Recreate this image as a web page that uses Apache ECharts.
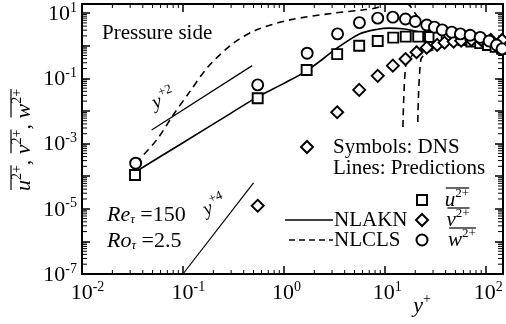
<!DOCTYPE html>
<html><head><meta charset="utf-8">
<script src="https://cdn.jsdelivr.net/npm/echarts@6.0.0/dist/echarts.min.js"></script>
<style>html,body{margin:0;padding:0;background:#fff}#c{width:506px;height:324px}</style>
</head><body><div id="c"></div>
<script>
const FONT = "Liberation Serif";
// tick label exponents
const xLabelExps = [-2, -1, 0, 1, 2];
const yLabelExps = [-7, -5, -3, -1, 1];
const X_RANGE = [0.01, 148];
const Y_RANGE = [1e-7, 19];

// DNS symbols
const dnsU = [[0.0335,1.09e-4],[0.55,0.0245],[1.68,0.18],[3.37,0.55],[5.57,1.0],[8.5,1.4],[12.1,1.77],[16.1,1.9],[21.4,1.9],[28,1.85],[34,1.8],[41,1.7],[50,1.6],[60,1.5],[72,1.35],[88,1.2],[105,1.05],[125,0.92],[145,0.8]];
const dnsV = [[0.55,1.24e-5],[3.37,0.0091],[5.57,0.044],[8.5,0.119],[12,0.245],[16,0.39],[20.6,0.63],[26,0.87],[33,1.06],[39,1.24],[48,1.34],[57,1.43],[72,1.5],[90,1.5],[112,1.5],[145,1.5]];
const dnsW = [[0.034,2.5e-4],[0.55,0.063],[1.7,0.59],[3.4,2.3],[5.6,5.1],[8.5,7.0],[12,7.5],[16,6.6],[20,5.5],[26,4.3],[31,3.7],[37,3.05],[46,2.6],[56,2.3],[70,2.1],[88,1.8],[108,1.4],[128,1.05],[145,0.8]];
// predictions
const nlakn = [[0.034,1.37e-4],[0.1,1.06e-3],[0.3,8.6e-3],[0.55,0.027],[1.0,0.07],[1.68,0.17],[2.5,0.42],[3.37,0.85],[5.6,2.3],[8.5,3.2],[11,3.45],[15,3.3],[20,2.8],[30,2.2],[40,1.8],[64,1.2],[100,0.85],[148,0.65]];
const nlclsW = [[0.034,2.5e-4],[0.055,1.3e-3],[0.08,7.5e-3],[0.117,0.039],[0.178,0.229],[0.315,1.19],[0.537,3.06],[1.15,6.2],[3.07,9.9],[6,12.5],[8.3,14.5],[10,19.5],[13,23],[17,19],[21,8],[26,4.8],[32,3.4],[45,2.4],[70,1.8],[100,1.5],[148,1.3]];
const nlclsV1 = [[15.1,3.2e-3],[16.1,0.26],[18,0.45],[22,0.7],[30,1.0],[45,1.25],[70,1.4],[148,1.45]];
const nlclsV2 = [[21.2,4.6e-3],[22.7,0.37],[26,0.6],[35,0.9],[50,1.1],[80,1.3],[148,1.4]];
const slope2 = [[0.049,2.6e-3],[0.485,0.245]];
const slope4 = [[0.1,1e-7],[0.5,6.25e-5]];

function minorVals(lo, hi) {
  const out = [];
  for (let k = Math.floor(Math.log10(lo)); k <= Math.ceil(Math.log10(hi)); k++)
    for (let m = 2; m <= 9; m++) { const v = m * Math.pow(10, k); if (v > lo * 1.0001 && v < hi * 0.9999) out.push(v); }
  return out;
}
const xMinor = minorVals(X_RANGE[0], X_RANGE[1]);
const yMinor = minorVals(Y_RANGE[0], Y_RANGE[1]);

const mctx = document.createElement('canvas').getContext('2d');
function tw(t, s, i) { mctx.font = (i ? 'italic ' : '') + s + 'px "' + FONT + '"'; return mctx.measureText(t).width; }
function tstyle(text, s, i, align) {
  return { text: text, fontFamily: FONT, fontSize: s, fontStyle: i ? 'italic' : 'normal', fill: '#000', align: align || 'left', verticalAlign: 'middle' };
}
// build a run of text pieces with optional overlines (local coords)
function run(items, center, olY) {
  let x = 0; const kids = []; const ol = {};
  items.forEach(it => {
    const w = tw(it.t, it.s, it.i);
    kids.push({ type: 'text', x: x, y: it.dy || 0, style: tstyle(it.t, it.s, it.i) });
    if (it.o != null) { if (!ol[it.o]) ol[it.o] = [x, x + w]; ol[it.o][1] = x + w; }
    x += w;
  });
  Object.keys(ol).forEach(k => kids.push({ type: 'line', shape: { x1: ol[k][0] + 1, y1: olY, x2: ol[k][1], y2: olY }, style: { stroke: '#000', lineWidth: 1.2 } }));
  if (center) kids.forEach(k => { if (k.type === 'text') k.x -= x / 2; else { k.shape.x1 -= x / 2; k.shape.x2 -= x / 2; } });
  return kids;
}

const chart = echarts.init(document.getElementById('c'));
const lineBase = { type: 'line', showSymbol: false, symbol: 'none', clip: true, z: 2, animation: false };
const scatBase = { type: 'scatter', itemStyle: { color: '#fff', borderColor: '#000', borderWidth: 1.9, opacity: 1 }, z: 4, animation: false };

function xFmt(v) {
  const e = Math.log10(v), k = Math.round(e);
  if (Math.abs(e - k) > 1e-6 || xLabelExps.indexOf(k) < 0) return '';
  return '{p' + String(k).length + '| }{b|10}{s|' + k + '}';
}
function yFmt(v) {
  const e = Math.log10(v), k = Math.round(e);
  if (Math.abs(e - k) > 1e-6 || yLabelExps.indexOf(k) < 0) return '';
  return '{b|10}{s|' + k + '}';
}
const labRich = {
  b: { fontFamily: FONT, fontSize: 22, lineHeight: 24, verticalAlign: 'bottom', color: '#000' },
  s: { fontFamily: FONT, fontSize: 14, lineHeight: 14, verticalAlign: 'top', color: '#000' },
  p1: { width: 5, fontSize: 14 }, p2: { width: 11, fontSize: 14 }
};
const axCommon = {
  type: 'log', logBase: 10,
  axisLine: { show: true, onZero: false, lineStyle: { color: '#000', width: 2 } },
  axisTick: { show: true, inside: true, length: 8, lineStyle: { color: '#000', width: 1.5 } },
  splitLine: { show: false }, minorTick: { show: false }
};
const ticksX = (params, api) => {
  const x = api.value(0);
  const b = api.coord([x, Y_RANGE[0]]), t = api.coord([x, Y_RANGE[1]]);
  return { type: 'group', children: [
    { type: 'line', shape: { x1: b[0], y1: b[1], x2: b[0], y2: b[1] - 4 }, style: { stroke: '#000', lineWidth: 1 } },
    { type: 'line', shape: { x1: t[0], y1: t[1], x2: t[0], y2: t[1] + 4 }, style: { stroke: '#000', lineWidth: 1 } }
  ] };
};
const ticksY = (params, api) => {
  const y = api.value(1);
  const l = api.coord([X_RANGE[0], y]), r = api.coord([X_RANGE[1], y]);
  return { type: 'group', children: [
    { type: 'line', shape: { x1: l[0], y1: l[1], x2: l[0] + 5, y2: l[1] }, style: { stroke: '#000', lineWidth: 1 } },
    { type: 'line', shape: { x1: r[0], y1: r[1], x2: r[0] - 5, y2: r[1] }, style: { stroke: '#000', lineWidth: 1 } }
  ] };
};

const graphics = [];
function txt(x, y, text, s, i, align) {
  graphics.push({ type: 'text', x: x, y: y, style: tstyle(text, s, i, align) });
}
txt(102, 33, 'Pressure side', 21);
txt(333, 147, 'Symbols: DNS', 21);
txt(333, 168, 'Lines: Predictions', 21);
graphics.push({ type: 'polygon', shape: { points: [[307, 141], [313, 147], [307, 153], [301, 147]] }, style: { fill: '#fff', stroke: '#000', lineWidth: 2 } });
// y+2 and y+4
graphics.push({ type: 'group', x: 153, y: 104, rotation: 0.36, children: run([{ t: 'y', s: 20, i: true }, { t: '+2', s: 13, dy: -8 }], false, 0) });
graphics.push({ type: 'group', x: 204, y: 211, rotation: 0.4, children: run([{ t: 'y', s: 20, i: true }, { t: '+4', s: 13, dy: -8 }], false, 0) });
// Re, Ro
graphics.push({ type: 'group', x: 107, y: 215, children: run([{ t: 'Re', s: 22, i: true }, { t: 'τ', s: 13, i: true, dy: 5 }, { t: ' =150', s: 22 }], false, 0) });
graphics.push({ type: 'group', x: 107, y: 241, children: run([{ t: 'Ro', s: 22, i: true }, { t: 'τ', s: 13, i: true, dy: 5 }, { t: ' =2.5', s: 22 }], false, 0) });
// legend
graphics.push({ type: 'line', shape: { x1: 285, y1: 220, x2: 333, y2: 220 }, style: { stroke: '#000', lineWidth: 1.6 } });
graphics.push({ type: 'line', shape: { x1: 289, y1: 240, x2: 333, y2: 240 }, style: { stroke: '#000', lineWidth: 1.6, lineDash: [6, 4] } });
txt(334, 220, 'NLAKN', 21);
txt(334, 240, 'NLCLS', 21);
graphics.push({ type: 'rect', shape: { x: 417, y: 195, width: 10, height: 10 }, style: { fill: '#fff', stroke: '#000', lineWidth: 2 } });
graphics.push({ type: 'polygon', shape: { points: [[422, 214], [428, 220], [422, 226], [416, 220]] }, style: { fill: '#fff', stroke: '#000', lineWidth: 2 } });
graphics.push({ type: 'circle', shape: { cx: 422, cy: 240, r: 5.5 }, style: { fill: '#fff', stroke: '#000', lineWidth: 2 } });
graphics.push({ type: 'group', x: 457, y: 200, children: run([{ t: 'u', s: 21, i: true, o: 1 }, { t: '2+', s: 13, dy: -6, o: 1 }], true, -12) });
graphics.push({ type: 'group', x: 458, y: 220, children: run([{ t: 'v', s: 21, i: true, o: 1 }, { t: '2+', s: 13, dy: -6, o: 1 }], true, -12) });
graphics.push({ type: 'group', x: 462, y: 240, children: run([{ t: 'w', s: 21, i: true, o: 1 }, { t: '2+', s: 13, dy: -6, o: 1 }], true, -12) });
// axis names
graphics.push({ type: 'group', x: 24, y: 140, rotation: Math.PI / 2, children: run([
  { t: 'u', s: 22, i: true, o: 1 }, { t: '2+', s: 14, dy: -7, o: 1 }, { t: ', ', s: 22 },
  { t: 'v', s: 22, i: true, o: 2 }, { t: '2+', s: 14, dy: -7, o: 2 }, { t: ', ', s: 22 },
  { t: 'w', s: 22, i: true, o: 3 }, { t: '2+', s: 14, dy: -7, o: 3 }], true, -13) });
graphics.push({ type: 'group', x: 422, y: 306, children: run([{ t: 'y', s: 22, i: true }, { t: '+', s: 14, dy: -7 }], true, 0) });

chart.setOption({
  animation: false,
  backgroundColor: '#fff',
  grid: { left: 82, right: 3, top: 4, bottom: 50, containLabel: false },
  xAxis: [
    Object.assign({}, axCommon, { position: 'bottom', min: X_RANGE[0], max: X_RANGE[1], splitNumber: 4,
      axisLabel: { show: true, margin: 6, formatter: xFmt, rich: labRich } }),
    Object.assign({}, axCommon, { position: 'top', min: X_RANGE[0], max: X_RANGE[1], splitNumber: 4, axisLabel: { show: false } })
  ],
  yAxis: [
    Object.assign({}, axCommon, { position: 'left', min: Y_RANGE[0], max: Y_RANGE[1], splitNumber: 8,
      axisLabel: { show: true, margin: 5, formatter: yFmt, rich: labRich } }),
    Object.assign({}, axCommon, { position: 'right', min: Y_RANGE[0], max: Y_RANGE[1], splitNumber: 8, axisLabel: { show: false } })
  ],
  graphic: graphics,
  series: [
    { type: 'custom', renderItem: ticksX, data: xMinor.map(v => [v, Y_RANGE[0]]), silent: true, z: 1 },
    { type: 'custom', renderItem: ticksY, data: yMinor.map(v => [X_RANGE[0], v]), silent: true, z: 1 },
    Object.assign({}, lineBase, { name: 'NLAKN', data: nlakn, smooth: 0.3, lineStyle: { color: '#000', width: 1.6 } }),
    Object.assign({}, lineBase, { name: 'NLCLS w', data: nlclsW, smooth: 0.3, lineStyle: { color: '#000', width: 1.6, type: [7, 5] } }),
    Object.assign({}, lineBase, { name: 'NLCLS v1', data: nlclsV1, smooth: 0.3, lineStyle: { color: '#000', width: 1.6, type: [7, 5] } }),
    Object.assign({}, lineBase, { name: 'NLCLS v2', data: nlclsV2, smooth: 0.3, lineStyle: { color: '#000', width: 1.6, type: [7, 5] } }),
    Object.assign({}, lineBase, { name: 'slope2', data: slope2, lineStyle: { color: '#000', width: 1.2 } }),
    Object.assign({}, lineBase, { name: 'slope4', data: slope4, lineStyle: { color: '#000', width: 1.2 } }),
    Object.assign({}, scatBase, { name: 'u2', data: dnsU, symbol: 'rect', symbolSize: 10 }),
    Object.assign({}, scatBase, { name: 'v2', data: dnsV, symbol: 'diamond', symbolSize: 12 }),
    Object.assign({}, scatBase, { name: 'w2', data: dnsW, symbol: 'circle', symbolSize: 11 })
  ]
});
</script></body></html>
